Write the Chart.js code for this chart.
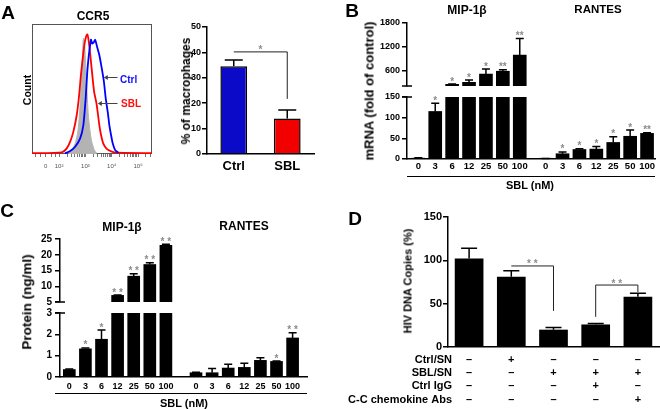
<!DOCTYPE html>
<html>
<head>
<meta charset="utf-8">
<title>SBL chemokine figure</title>
<script src="https://cdn.jsdelivr.net/npm/chart.js@4.4.1/dist/chart.umd.min.js"></script>
<style>
  html, body { margin: 0; padding: 0; background: #fff; }
  #fig { position: relative; width: 660px; height: 409px; overflow: hidden; font-family: "Liberation Sans", Arial, sans-serif; }
  #fig canvas { position: absolute; left: 0; top: 0; }
  .lbl { position: absolute; z-index: 2; font-weight: bold; white-space: nowrap; line-height: 1; transform: translate(-50%, -50%); }
  .lbl.rot { transform: translate(-50%, -50%) rotate(-90deg); }
  .lbl.lt { transform: translate(0, -50%); }
  .rule { position: absolute; z-index: 2; height: 0; border-top: 1.5px solid #000; }
</style>
</head>
<body>
<div id="fig">
  <div class="lbl" style="left:8px;top:12px;font-size:19px">A</div>
  <div class="lbl" style="left:93px;top:16px;font-size:12px">CCR5</div>
  <div class="lbl rot" style="left:27px;top:90px;font-size:10.5px">Count</div>
  <div class="lbl lt" style="left:120px;top:80px;font-size:10px;color:#1010ff">Ctrl</div>
  <div class="lbl lt" style="left:121px;top:104px;font-size:10px;color:#ff1010">SBL</div>
  <div class="lbl rot" style="left:186px;top:91px;font-size:12px">% of macrophages</div>

  <div class="lbl" style="left:352px;top:10px;font-size:19px">B</div>
  <div class="lbl" style="left:467px;top:10px;font-size:12px">MIP-1β</div>
  <div class="lbl" style="left:598px;top:10px;font-size:11.5px">RANTES</div>
  <div class="lbl rot" style="left:369px;top:91px;font-size:13px">mRNA (fold of control)</div>
  <div class="rule" style="left:407px;top:176px;width:248px"></div>
  <div class="lbl" style="left:530px;top:185px;font-size:11px">SBL (nM)</div>

  <div class="lbl" style="left:7px;top:210px;font-size:19px">C</div>
  <div class="lbl" style="left:122px;top:227px;font-size:12px">MIP-1β</div>
  <div class="lbl" style="left:244px;top:226px;font-size:12px">RANTES</div>
  <div class="lbl rot" style="left:27px;top:302px;font-size:13.5px">Protein (ng/ml)</div>
  <div class="rule" style="left:55px;top:393px;width:252px"></div>
  <div class="lbl" style="left:184px;top:403px;font-size:11px">SBL (nM)</div>

  <div class="lbl" style="left:355px;top:218px;font-size:19px">D</div>
  <div class="lbl rot" style="left:408px;top:281px;font-size:11px">HIV DNA Copies (%)</div>
</div>
<script>
// ---------- data ----------
// A, left: CCR5 histogram (x = log10 intensity, y = % of frame height)
const isoX = [2.35, 2.48, 2.61, 2.71, 2.78, 2.83, 2.88, 2.92, 2.97, 3.01, 3.06, 3.11, 3.18, 3.24, 3.34, 3.43];
const isoY = [0.5, 3, 8, 17, 32, 50, 71, 89, 84, 68, 48, 30, 17, 9.5, 3, 0.5];
const sblX = [0.97, 2.1, 2.29, 2.42, 2.54, 2.67, 2.76, 2.83, 2.9, 2.96, 3.02, 3.07, 3.11, 3.16, 3.21, 3.26, 3.33, 3.42, 3.48, 3.53, 3.59, 3.68, 3.81, 4.0, 4.19, 5.53];
const sblY = [0.6, 1.3, 4.3, 9.5, 17, 30, 45, 61, 74, 84, 90, 92, 89, 81, 71, 61, 48, 39, 30, 22, 15, 8, 4, 1.8, 1, 0.6];
const ctrlX = [2.22, 2.42, 2.61, 2.8, 2.92, 3.01, 3.07, 3.13, 3.18, 3.21, 3.26, 3.32, 3.37, 3.4, 3.45, 3.53, 3.62, 3.7, 3.77, 3.85, 3.91, 3.97, 4.04, 4.13, 4.25];
const ctrlY = [0.5, 2.3, 5.6, 12, 22, 43, 63, 76, 84, 88, 85, 86, 88, 86, 82, 76, 66, 56, 43, 32, 22, 15, 8, 3, 1];
const histTickPos = [1.49, 2, 3, 4, 5];
const histTickText = ['0', '10²', '10³', '10⁴', '10⁵'];

// A, right
const pctGroups = ['Ctrl', 'SBL'];
const pctMean = [34.5, 14];
const pctErr = [37, 17.3];

// B: mRNA, fold of control
const doses = ['0', '3', '6', '12', '25', '50', '100'];
const mrnaMip = [2, 115, 243, 293, 503, 575, 985];
const mrnaMipErr = [3, 135, 250, 352, 630, 615, 1405];
const mrnaMipSig = ['', '*', '*', '*', '*', '**', '**'];
const mrnaRantes = [1, 12.7, 23, 24, 40, 55, 62];
const mrnaRantesErr = [1.5, 17, 24.5, 30, 54, 70, 63.5];
const mrnaRantesSig = ['', '*', '*', '*', '*', '*', '**'];

// C: protein, ng/ml
const protMip = [0.35, 1.32, 1.77, 7.1, 13.2, 16.9, 23.0];
const protMipErr = [0.38, 1.36, 2.2, 7.2, 14.0, 17.5, 23.3];
const protMipSig = ['', '*', '*', '* *', '* *', '* *', '* *'];
const protRantes = [0.2, 0.2, 0.42, 0.45, 0.78, 0.73, 1.83];
const protRantesErr = [0.22, 0.4, 0.6, 0.65, 0.9, 0.75, 2.07];
const protRantesSig = ['', '', '', '', '', '*', '* *'];

// D: HIV DNA copies
const hivMean = [102, 81, 20, 26, 58];
const hivErr = [114, 88, 22.5, 27, 62];
const condRows = ['Ctrl/SN', 'SBL/SN', 'Ctrl IgG', 'C-C chemokine Abs'];
const condSigns = [
  ['–', '+', '–', '–', '–'],
  ['–', '–', '+', '+', '+'],
  ['–', '–', '–', '+', '–'],
  ['–', '–', '–', '–', '+'],
];

// ---------- setup ----------
const FONT = '"Liberation Sans", Arial, sans-serif';
Chart.defaults.font.family = FONT;
Chart.defaults.color = '#000';
Chart.defaults.animation = false;
Chart.defaults.plugins.legend.display = false;
Chart.defaults.plugins.tooltip.enabled = false;

const W = 660, H = 409;
const fig = document.getElementById('fig');
const STAR = '#8c8c8c';

function newCanvas() {
  const c = document.createElement('canvas');
  c.width = W;
  c.height = H;
  fig.appendChild(c);
  return c;
}

// chart area at [l, t, r, b] in page pixels; yw / xh = fixed y-axis width / x-axis height
function area(l, t, r, b, yw, xh) {
  return { padding: { left: l - yw, top: t, right: W - r, bottom: H - b - xh } };
}

function valueAxis(min, max, step, size, pad, yw, fixed) {
  const ax = {
    min, max,
    ticks: { stepSize: step, font: { size, weight: 'bold' }, padding: pad, callback: v => String(v) },
    grid: { drawOnChartArea: false, drawTicks: true, tickLength: 5, color: '#000', lineWidth: 1.5 },
    border: { display: true, color: '#000', width: 1.5 },
    afterFit: s => { s.width = yw; },
  };
  if (fixed) ax.afterBuildTicks = s => { s.ticks = fixed.map(v => ({ value: v })); };
  return ax;
}

function doseAxis(min, max, pos, labels, show, size, pad, xh) {
  return {
    type: 'linear', min, max, offset: false, display: show,
    afterBuildTicks: s => { s.ticks = pos.map(v => ({ value: v })); },
    ticks: { callback: (v, i) => labels[i], font: { size, weight: 'bold' }, padding: pad, autoSkip: false, maxRotation: 0 },
    grid: { display: false, drawTicks: false, tickLength: 0 },
    border: { display: true, color: '#000', width: 1.5 },
    afterFit: s => { s.height = xh; },
  };
}

function barSet(pos, vals, lo, thick) {
  return {
    data: pos.map((p, i) => ({ x: p, y: vals[i] > lo ? vals[i] : null })),
    backgroundColor: '#000', barThickness: thick, grouped: false,
  };
}

// upper error bars + significance stars, drawn only in the segment that holds the cap
function errorMarks(series, cap, starSize) {
  return {
    id: 'errorMarks',
    afterDatasetsDraw(chart) {
      const { ctx, scales: { x, y } } = chart;
      ctx.save();
      ctx.lineWidth = 1.5;
      ctx.strokeStyle = '#000';
      ctx.fillStyle = STAR;
      ctx.textAlign = 'center';
      ctx.textBaseline = 'alphabetic';
      ctx.font = `bold ${starSize}px ${FONT}`;
      series.forEach(s => s.mean.forEach((m, i) => {
        const e = s.err[i];
        if (e < y.min || e > y.max) return;
        const px = x.getPixelForValue(s.pos[i]);
        const top = y.getPixelForValue(e);
        ctx.beginPath();
        ctx.moveTo(px, y.getPixelForValue(Math.max(m, y.min)));
        ctx.lineTo(px, top);
        ctx.moveTo(px - cap / 2, top);
        ctx.lineTo(px + cap / 2, top);
        ctx.stroke();
        if (s.sig && s.sig[i]) ctx.fillText(s.sig[i], px, top + 0.5);
      }));
      ctx.restore();
    }
  };
}

function brackets(list) {
  return {
    id: 'brackets',
    afterDatasetsDraw(chart) {
      const { ctx, scales: { x, y } } = chart;
      ctx.save();
      ctx.strokeStyle = '#222';
      ctx.lineWidth = 1;
      ctx.fillStyle = STAR;
      ctx.textAlign = 'center';
      ctx.font = `bold 10px ${FONT}`;
      list.forEach(b => {
        ctx.beginPath();
        b.path.forEach(([i, v], k) => {
          const px = x.getPixelForValue(i), py = y.getPixelForValue(v);
          if (k) ctx.lineTo(px, py); else ctx.moveTo(px, py);
        });
        ctx.stroke();
        const mx = (x.getPixelForValue(b.from) + x.getPixelForValue(b.to)) / 2;
        ctx.fillText(b.text, mx, y.getPixelForValue(b.level) + 1.5);
      });
      ctx.restore();
    }
  };
}

function axisBreak(edge) {
  return {
    id: 'axisBreak',
    afterDraw(chart) {
      const { ctx, chartArea: a } = chart;
      const yy = edge === 'top' ? a.top : a.bottom;
      ctx.save();
      ctx.strokeStyle = '#000';
      ctx.lineWidth = 1.5;
      ctx.beginPath();
      ctx.moveTo(a.left - 5, yy);
      ctx.lineTo(a.left + 5, yy);
      ctx.stroke();
      ctx.restore();
    }
  };
}

// ---------- A: histogram ----------
const toPts = (xs, ys) => xs.map((v, i) => ({ x: v, y: ys[i] }));
const histMinor = [];
for (let d = 2; d <= 5; d++) for (let k = 2; k <= 9; k++) if (d + Math.log10(k) < 5.5) histMinor.push(d + Math.log10(k));
[1.1, 1.3, 1.7, 1.85].forEach(v => histMinor.push(v));
const histArrows = [{ tip: 3.7, tail: 4.22, level: 59 }, { tip: 3.47, tail: 4.22, level: 39 }];

const histDecor = {
  id: 'histDecor',
  beforeDatasetsDraw(chart) {
    const { ctx, chartArea: a } = chart;
    ctx.save();
    ctx.strokeStyle = '#555';
    ctx.lineWidth = 1;
    ctx.strokeRect(a.left + 0.5, a.top + 0.5, a.width - 1, a.height - 1);
    ctx.restore();
  },
  afterDatasetsDraw(chart) {
    const { ctx, scales: { x, y } } = chart;
    ctx.save();
    ctx.strokeStyle = '#444';
    ctx.fillStyle = '#444';
    ctx.lineWidth = 1;
    histArrows.forEach(a => {
      const x0 = x.getPixelForValue(a.tip), x1 = x.getPixelForValue(a.tail), py = Math.round(y.getPixelForValue(a.level)) + 0.5;
      ctx.beginPath();
      ctx.moveTo(x0 + 3, py);
      ctx.lineTo(x1, py);
      ctx.stroke();
      ctx.beginPath();
      ctx.moveTo(x0, py);
      ctx.lineTo(x0 + 4, py - 2.5);
      ctx.lineTo(x0 + 4, py + 2.5);
      ctx.closePath();
      ctx.fill();
    });
    ctx.restore();
  }
};

new Chart(newCanvas(), {
  type: 'line',
  data: {
    datasets: [
      { data: toPts(ctrlX, ctrlY), borderColor: '#0000ff', borderWidth: 1.8, pointRadius: 0, tension: 0.2, fill: false, order: 1 },
      { data: toPts(sblX, sblY), borderColor: '#ff0000', borderWidth: 1.8, pointRadius: 0, tension: 0.2, fill: false, order: 2 },
      { data: toPts(isoX, isoY), borderColor: '#b3b3b3', backgroundColor: '#b3b3b3', borderWidth: 1, pointRadius: 0, tension: 0.2, fill: 'origin', order: 3 },
    ]
  },
  options: {
    responsive: false,
    layout: area(32, 24, 152, 154, 0, 24),
    scales: {
      x: {
        type: 'linear', min: 0.97, max: 5.53,
        afterBuildTicks: s => { s.ticks = histTickPos.concat(histMinor).map(v => ({ value: v })); },
        ticks: { callback: (v, i) => histTickText[i] || '', font: { size: 6 }, color: '#555', padding: 6, autoSkip: false, maxRotation: 0 },
        grid: { drawOnChartArea: false, drawTicks: true, tickLength: 3, color: '#777' },
        border: { display: false },
        afterFit: s => { s.height = 24; },
      },
      y: { display: false, min: 0, max: 100 },
    },
  },
  plugins: [histDecor],
});

// ---------- A: % of macrophages ----------
new Chart(newCanvas(), {
  type: 'bar',
  data: {
    labels: pctGroups,
    datasets: [{ data: pctMean, backgroundColor: ['#0a0ac8', '#f20000'], borderColor: '#000', borderWidth: 1.5, barPercentage: 0.5, categoryPercentage: 1 }]
  },
  options: {
    responsive: false,
    layout: area(207, 27, 314, 154, 30, 30),
    scales: {
      x: {
        ticks: { font: { size: 13, weight: 'bold' }, padding: 5 },
        grid: { display: false, drawTicks: false, tickLength: 0 },
        border: { display: true, color: '#000', width: 1.5 },
        afterFit: s => { s.height = 30; },
      },
      y: valueAxis(0, 50, 10, 9, 1, 30),
    },
  },
  plugins: [
    errorMarks([{ pos: [0, 1], mean: pctMean, err: pctErr }], 18, 10),
    brackets([{ path: [[0, 40.2], [1, 40.2], [1, 21.7]], from: 0, to: 1, level: 40.2, text: '*' }]),
  ],
});

// ---------- B: mRNA, broken axis ----------
const B_MIN = -0.67, B_MAX = 14.0, B_GAP = 7.53;
const bMipPos = doses.map((_, i) => i);
const bRanPos = doses.map((_, i) => i + B_GAP);
const bSeries = [
  { pos: bMipPos, mean: mrnaMip, err: mrnaMipErr, sig: mrnaMipSig },
  { pos: bRanPos, mean: mrnaRantes, err: mrnaRantesErr, sig: mrnaRantesSig },
];

new Chart(newCanvas(), {
  type: 'bar',
  data: { datasets: [barSet(bMipPos, mrnaMip, 200, 13), barSet(bRanPos, mrnaRantes, 200, 13)] },
  options: {
    responsive: false,
    layout: area(407, 23, 655, 86, 30, 0),
    scales: {
      x: doseAxis(B_MIN, B_MAX, bMipPos.concat(bRanPos), doses.concat(doses), false, 9.5, 2, 0),
      y: valueAxis(200, 1800, 600, 9, 2, 30, [600, 1200, 1800]),
    },
  },
  plugins: [errorMarks(bSeries, 8, 10), axisBreak('bottom')],
});

new Chart(newCanvas(), {
  type: 'bar',
  data: { datasets: [barSet(bMipPos, mrnaMip, -Infinity, 13), barSet(bRanPos, mrnaRantes, -Infinity, 13)] },
  options: {
    responsive: false,
    layout: area(407, 97, 655, 159, 30, 14),
    scales: {
      x: doseAxis(B_MIN, B_MAX, bMipPos.concat(bRanPos), doses.concat(doses), true, 9.5, 2, 14),
      y: valueAxis(0, 150, 50, 9, 2, 30),
    },
  },
  plugins: [errorMarks(bSeries, 8, 10), axisBreak('top')],
});

// ---------- C: protein, broken axis ----------
const C_MIN = -0.578, C_MAX = 14.764, C_GAP = 7.87;
const cMipPos = doses.map((_, i) => i);
const cRanPos = doses.map((_, i) => i + C_GAP);
const cSeries = [
  { pos: cMipPos, mean: protMip, err: protMipErr, sig: protMipSig },
  { pos: cRanPos, mean: protRantes, err: protRantesErr, sig: protRantesSig },
];

new Chart(newCanvas(), {
  type: 'bar',
  data: { datasets: [barSet(cMipPos, protMip, 5, 12), barSet(cRanPos, protRantes, 5, 12)] },
  options: {
    responsive: false,
    layout: area(60, 239, 307, 302, 30, 0),
    scales: {
      x: doseAxis(C_MIN, C_MAX, cMipPos.concat(cRanPos), doses.concat(doses), false, 9, 4, 0),
      y: valueAxis(5, 25, 5, 10, 3, 30),
    },
  },
  plugins: [errorMarks(cSeries, 8, 10), axisBreak('bottom')],
});

new Chart(newCanvas(), {
  type: 'bar',
  data: { datasets: [barSet(cMipPos, protMip, -Infinity, 12), barSet(cRanPos, protRantes, -Infinity, 12)] },
  options: {
    responsive: false,
    layout: area(60, 313, 307, 377, 30, 14),
    scales: {
      x: doseAxis(C_MIN, C_MAX, cMipPos.concat(cRanPos), doses.concat(doses), true, 9, 4, 14),
      y: valueAxis(0, 3, 1, 10, 3, 30),
    },
  },
  plugins: [errorMarks(cSeries, 8, 10), axisBreak('top')],
});

// ---------- D: HIV DNA copies with condition table ----------
const D_LABEL_SIZE = 11, D_PAD = 6.4;
const rowNames = {
  id: 'rowNames',
  afterDraw(chart) {
    const { ctx, scales: { x } } = chart;
    const lh = D_LABEL_SIZE * 1.2;
    ctx.save();
    ctx.fillStyle = '#000';
    ctx.font = `bold ${D_LABEL_SIZE}px ${FONT}`;
    ctx.textAlign = 'right';
    ctx.textBaseline = 'middle';
    condRows.forEach((name, r) => ctx.fillText(name, x.left + 4, x.top + D_PAD + lh / 2 + r * lh));
    ctx.restore();
  }
};

new Chart(newCanvas(), {
  type: 'bar',
  data: {
    labels: hivMean.map((_, j) => condSigns.map(row => row[j])),
    datasets: [{ data: hivMean, backgroundColor: '#000', barPercentage: 0.68, categoryPercentage: 1 }]
  },
  options: {
    responsive: false,
    layout: area(448, 217, 659, 347, 30, 62),
    scales: {
      x: {
        ticks: { font: { size: D_LABEL_SIZE, weight: 'bold' }, padding: D_PAD, autoSkip: false, maxRotation: 0 },
        grid: { display: false, drawTicks: false, tickLength: 0 },
        border: { display: true, color: '#000', width: 1.5 },
        afterFit: s => { s.height = 62; },
      },
      y: valueAxis(0, 150, 50, 11, 1, 30),
    },
  },
  plugins: [
    errorMarks([{ pos: hivMean.map((_, i) => i), mean: hivMean, err: hivErr }], 16, 10),
    brackets([
      { path: [[1, 93.5], [2, 93.5], [2, 41.7]], from: 1, to: 2, level: 93.5, text: '* *' },
      { path: [[3, 34.8], [3, 71.5], [4, 71.5], [4, 63.5]], from: 3, to: 4, level: 71.5, text: '* *' },
    ]),
    rowNames,
  ],
});
</script>
</body>
</html>
